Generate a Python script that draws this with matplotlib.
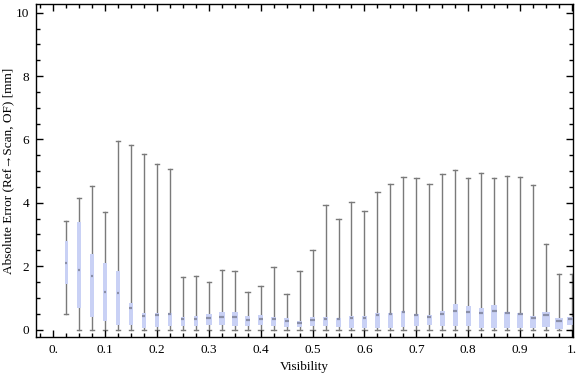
import numpy as np
import matplotlib
matplotlib.use("Agg")
import matplotlib.pyplot as plt
from matplotlib.ticker import MultipleLocator, FixedLocator
from matplotlib.patches import Rectangle

# box-whisker statistics per visibility bin
visibility = [0.025, 0.05, 0.075, 0.1, 0.125, 0.15, 0.175, 0.2, 0.225, 0.25,
              0.275, 0.3, 0.325, 0.35, 0.375, 0.4, 0.425, 0.45, 0.475, 0.5,
              0.525, 0.55, 0.575, 0.6, 0.625, 0.65, 0.675, 0.7, 0.725, 0.75,
              0.775, 0.8, 0.825, 0.85, 0.875, 0.9, 0.925, 0.95, 0.975, 1.0]
w_low = [0.49, 0, 0, 0, 0, 0, 0, 0, 0, 0,
         0, 0, 0, 0, 0, 0, 0, 0, 0, 0,
         0, 0, 0, 0, 0, 0, 0, 0, 0, 0,
         0, 0, 0, 0, 0, 0, 0, 0, 0, 0]
q1 = [1.45, 0.67, 0.40, 0.28, 0.15, 0.15, 0.06, 0.08, 0.11, 0.11,
      0.11, 0.15, 0.15, 0.11, 0.11, 0.14, 0.11, 0.08, 0.08, 0.11,
      0.11, 0.08, 0.05, 0.05, 0.05, 0.05, 0.08, 0.11, 0.14, 0.11,
      0.11, 0.11, 0.05, 0.05, 0.05, 0.05, 0.05, 0.08, 0.02, 0.14]
median = [2.10, 1.88, 1.69, 1.17, 1.14, 0.69, 0.43, 0.47, 0.48, 0.34,
          0.34, 0.37, 0.40, 0.38, 0.30, 0.33, 0.34, 0.28, 0.22, 0.29,
          0.34, 0.33, 0.35, 0.37, 0.46, 0.49, 0.54, 0.46, 0.40, 0.49,
          0.58, 0.55, 0.53, 0.58, 0.52, 0.48, 0.36, 0.46, 0.26, 0.32]
q3 = [2.79, 3.39, 2.38, 2.09, 1.85, 0.84, 0.52, 0.52, 0.53, 0.39,
      0.43, 0.49, 0.55, 0.55, 0.43, 0.46, 0.39, 0.36, 0.27, 0.39,
      0.39, 0.36, 0.43, 0.44, 0.52, 0.52, 0.58, 0.49, 0.46, 0.58,
      0.80, 0.74, 0.68, 0.77, 0.55, 0.52, 0.43, 0.55, 0.36, 0.39]
w_high = [3.42, 4.14, 4.52, 3.71, 5.94, 5.81, 5.53, 5.24, 5.08, 1.66,
          1.69, 1.49, 1.87, 1.84, 1.20, 1.37, 1.97, 1.12, 1.84, 2.51,
          3.92, 3.48, 4.02, 3.74, 4.34, 4.59, 4.81, 4.77, 4.59, 4.91,
          5.02, 4.77, 4.93, 4.77, 4.86, 4.80, 4.55, 2.69, 1.74, 1.74]
# box widths in pixels as drawn
box_px = [3, 3.3, 3.3, 3.5, 3.5, 3.5, 3.5, 4.2, 4.2, 4.2,
          4.2, 6, 6, 6, 5.2, 5.2, 5.2, 5.2, 5.2, 5.2,
          4.2, 4.2, 4.2, 4.2, 4.2, 4.2, 4.2, 5.2, 5.2, 5.2,
          5.2, 5.2, 5.2, 6, 6, 6, 6, 8, 8, 10]

plt.rcParams['font.family'] = ['Liberation Serif', 'DejaVu Serif']

fig = plt.figure(figsize=(5.76, 3.77), dpi=100)
ax = fig.add_axes([0.0625, 0.106, 0.9325, 0.883])
ax.set_xlim(-0.0328, 1.002)
ax.set_ylim(-0.237, 10.27)

px = (1.002 + 0.0328) / (0.9325 * 576)  # data units per pixel in x

gray = '#7a7a7a'
for x, lo, a, m, b, hi, wp in zip(visibility, w_low, q1, median, q3, w_high, box_px):
    w = wp * px
    ax.add_patch(Rectangle((x - w / 2, a), w, b - a, facecolor='#c9d1f5',
                           edgecolor='none', zorder=2))
    ax.plot([x, x], [lo, a], color=gray, lw=1.0, zorder=1)
    ax.plot([x, x], [b, hi], color=gray, lw=1.0, zorder=1)
    cw = 2.2 * px
    ax.plot([x - cw, x + cw], [lo, lo], color=gray, lw=1.0, zorder=1)
    ax.plot([x - cw, x + cw], [hi, hi], color=gray, lw=1.0, zorder=1)
    ax.plot([x - w / 2.5, x + w / 2.5], [m, m], color='#8a8fa8', lw=1.6,
            solid_capstyle='butt', zorder=3)

ax.xaxis.set_major_locator(FixedLocator(np.arange(0, 1.01, 0.1)))
ax.xaxis.set_minor_locator(MultipleLocator(0.025))
ax.yaxis.set_major_locator(MultipleLocator(2))
ax.yaxis.set_minor_locator(MultipleLocator(0.5))
ax.set_xticklabels(['0.', '0.1', '0.2', '0.3', '0.4', '0.5', '0.6', '0.7',
                    '0.8', '0.9', '1.'])
ax.tick_params(which='both', direction='in', top=True, right=True,
               labelsize=9.5, colors='black', width=1.0)
ax.tick_params(which='major', length=5, pad=5)
ax.tick_params(which='minor', length=3)
for s in ax.spines.values():
    s.set_linewidth(1.0)

ax.set_xlabel('Visibility', fontsize=9.5)
ax.set_ylabel('Absolute Error (Ref\u2192Scan, OF) [mm]', fontsize=9.5)
ax.xaxis.set_label_coords(0.5, -0.072)
ax.yaxis.set_label_coords(-0.04, 0.5)

fig.savefig('out.png', dpi=100)
